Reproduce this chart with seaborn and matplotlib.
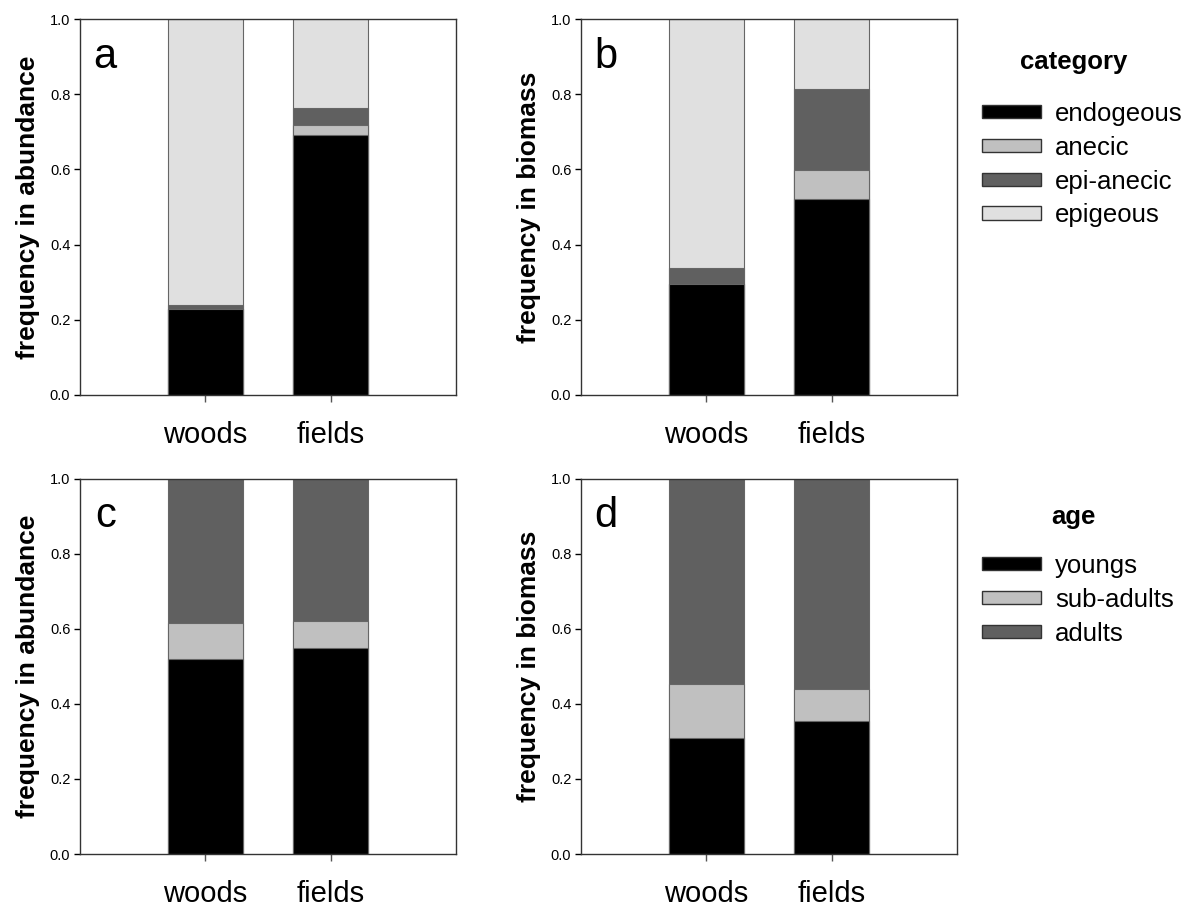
import numpy as np
import pandas as pd
import matplotlib
matplotlib.use("Agg")
import matplotlib.pyplot as plt
import matplotlib.patches as mpatches
import seaborn as sns

# --- datos ---
sites = ["woods", "fields"]

cat_names = ["endogeous", "anecic", "epi-anecic", "epigeous"]
cat_colors = ["#000000", "#c0c0c0", "#606060", "#e0e0e0"]
# a: abundancia por categoria ecologica
ab_endogeous = [0.229, 0.692]
ab_anecic = [0.000, 0.026]
ab_epianecic = [0.011, 0.045]
ab_epigeous = [0.760, 0.237]
# b: biomasa por categoria ecologica
bm_endogeous = [0.296, 0.522]
bm_anecic = [0.000, 0.077]
bm_epianecic = [0.042, 0.215]
bm_epigeous = [0.662, 0.186]

age_names = ["youngs", "sub-adults", "adults"]
age_colors = ["#000000", "#c0c0c0", "#606060"]
# c: abundancia por edad
ab_youngs = [0.519, 0.548]
ab_subadults = [0.096, 0.072]
ab_adults = [0.385, 0.380]
# d: biomasa por edad
bm_youngs = [0.309, 0.354]
bm_subadults = [0.144, 0.085]
bm_adults = [0.547, 0.561]

sns.set_style("ticks")
plt.rcParams['font.family'] = ['Liberation Sans', 'DejaVu Sans']
plt.rcParams.update({"text.color": "black", "axes.labelcolor": "black",
                     "xtick.color": "black", "ytick.color": "black"})


def stacked(ax, layers, colors, letter, ylabel):
    # dibujamos de arriba hacia abajo usando las sumas acumuladas
    df = pd.DataFrame(dict(zip(range(len(layers)), layers)), index=sites)
    cum = df.cumsum(axis=1)
    for i in reversed(range(len(layers))):
        sub = pd.DataFrame({"site": sites, "top": cum[i].values})
        sns.barplot(data=sub, x="site", y="top", order=sites, color=colors[i],
                    width=0.6, saturation=1, edgecolor="#666666", linewidth=0.8,
                    ax=ax, errorbar=None)
    ax.set_xlim(-1, 2)
    ax.set_ylim(0, 1)
    ticks = np.arange(0, 1.01, 0.2)
    ax.set_yticks(ticks)
    ax.set_yticklabels([f"{v:.1f}" for v in ticks], fontsize=10.5)
    ax.set_xticks([0, 1])
    ax.set_xticklabels(sites, fontsize=21)
    ax.tick_params(axis="x", length=5, width=1, color="#555555", pad=14)
    ax.tick_params(axis="y", length=4, width=1, pad=3)
    ax.set_xlabel("")
    ax.set_ylabel(ylabel, fontsize=19, fontweight="bold", labelpad=7)
    for s in ax.spines.values():
        s.set_visible(True)
        s.set_linewidth(1)
        s.set_color("#333333")
    ax.text(0.067, 0.9, letter, transform=ax.transAxes, fontsize=30,
            ha="center", va="center")


fig = plt.figure(figsize=(11.94, 9.07), dpi=100)
w, h = 0.3149, 0.414
ax_a = fig.add_axes([0.0670, 0.5648, w, h])
ax_b = fig.add_axes([0.4866, 0.5648, w, h])
ax_c = fig.add_axes([0.0670, 0.0584, w, h])
ax_d = fig.add_axes([0.4866, 0.0584, w, h])

stacked(ax_a, [ab_endogeous, ab_anecic, ab_epianecic, ab_epigeous], cat_colors, "a",
        "frequency in abundance")
stacked(ax_b, [bm_endogeous, bm_anecic, bm_epianecic, bm_epigeous], cat_colors, "b",
        "frequency in biomass")
stacked(ax_c, [ab_youngs, ab_subadults, ab_adults], age_colors, "c",
        "frequency in abundance")
stacked(ax_d, [bm_youngs, bm_subadults, bm_adults], age_colors, "d",
        "frequency in biomass")


def add_legend(names, colors, title, title_y, y):
    handles = [mpatches.Patch(facecolor=c, edgecolor="#333333", linewidth=1, label=n)
               for n, c in zip(names, colors)]
    fig.legend(handles=handles, loc="upper left",
               bbox_to_anchor=(982 / 1194, y), frameon=False, fontsize=18.5,
               handlelength=2.3, handleheight=0.42, labelspacing=0.38,
               handletextpad=0.55, borderaxespad=0, borderpad=0)
    fig.text(0.899, title_y, title, fontsize=18.5, fontweight="bold",
             ha="center", va="center")


add_legend(cat_names, cat_colors, "category", 1 - 62 / 907, 1 - 102 / 907)
add_legend(age_names, age_colors, "age", 1 - 517 / 907, 1 - 554 / 907)

fig.savefig("out.png", dpi=100)
